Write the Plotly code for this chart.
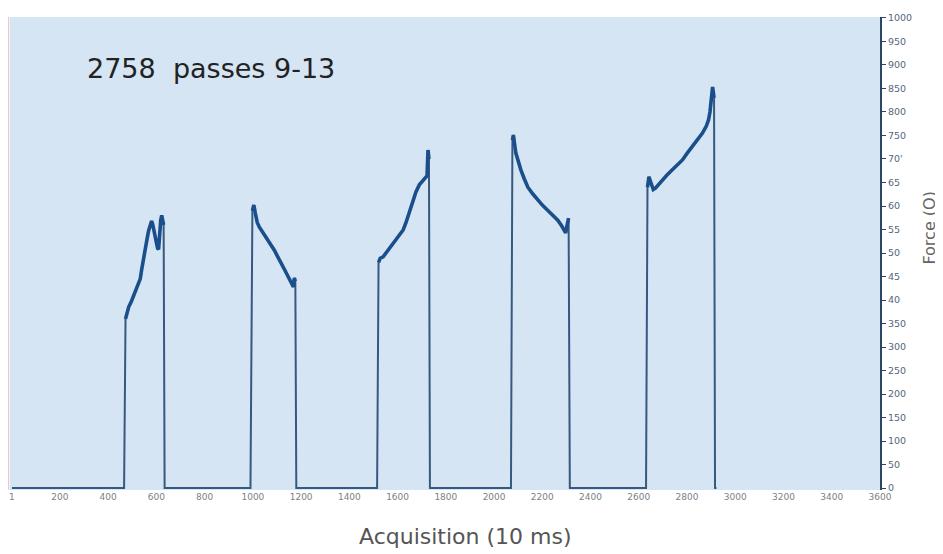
import plotly.graph_objects as go

# Signal (acquisition index, force)
acq = [1, 466, 472, 478, 485, 497, 510, 522, 533, 539, 545, 551, 558, 563, 568, 574, 580, 585, 590, 596, 601, 605, 609, 613, 618, 622, 626, 630, 634,
       990, 998, 1004, 1010, 1018, 1027, 1040, 1056, 1070, 1089, 1100, 1118, 1130, 1147, 1160, 1168, 1172, 1176, 1180,
       1515, 1521, 1528, 1540, 1552, 1565, 1580, 1594, 1608, 1623, 1635, 1648, 1662, 1676, 1690, 1705, 1715, 1722, 1726, 1730, 1734,
       2070, 2076, 2080, 2090, 2100, 2111, 2125, 2140, 2160, 2181, 2200, 2222, 2243, 2264, 2280, 2297, 2303, 2309, 2314,
       2630, 2636, 2642, 2650, 2660, 2669, 2680, 2698, 2715, 2739, 2760, 2781, 2800, 2822, 2843, 2864, 2880, 2889, 2895, 2900, 2906, 2912, 2916, 2922,
       3420]
force = [0, 0, 360, 375, 385, 398, 415, 428, 445, 465, 485, 500, 520, 535, 548, 560, 568, 560, 545, 528, 520, 510, 508, 540, 570, 580, 570, 560, 0,
         0, 590, 602, 585, 565, 555, 545, 534, 520, 506, 495, 479, 466, 449, 438, 428, 447, 440, 0,
         0, 480, 489, 492, 500, 510, 520, 528, 540, 549, 565, 585, 605, 630, 645, 655, 660, 664, 719, 700, 0,
         0, 740, 751, 713, 695, 677, 658, 640, 626, 613, 602, 591, 580, 570, 558, 543, 560, 574, 0,
         0, 640, 662, 650, 635, 638, 645, 655, 665, 677, 688, 698, 712, 726, 740, 755, 770, 783, 800, 830, 853, 830, 0,
         0]

x_tickvals = [1] + list(range(200, 3601, 200))
x_ticktext = [str(v) for v in x_tickvals]
y_tickvals = list(range(0, 1001, 50))
y_ticktext = ["0", "50", "100", "150", "200", "250", "300", "350", "40", "45", "50",
              "55", "60", "65", "70'", "750", "800", "850", "900", "950", "1000"]

title_text = "2758\u00a0 passes 9-13"
x_title = "Acquisition (10 ms)"
y_title = "Force (O)"

fig = go.Figure()
fig.add_trace(go.Scatter(x=acq, y=force, mode="lines",
                         line=dict(color="#35597f", width=2), hoverinfo="skip", showlegend=False))
# thicker overlay on the loaded plateaus
force_top = [v if v > 0 else None for v in force]
fig.add_trace(go.Scatter(x=acq, y=force_top, mode="lines", connectgaps=False,
                         line=dict(color="#1b4f8c", width=3.6), hoverinfo="skip", showlegend=False))

fig.update_layout(
    width=935, height=546,
    margin=dict(l=2, r=63, t=9, b=64),
    paper_bgcolor="white",
    plot_bgcolor="#d5e5f3",
    font=dict(family="DejaVu Sans"),
    xaxis=dict(range=[-7, 3600], tickvals=x_tickvals, ticktext=x_ticktext,
               showgrid=False, zeroline=False, showline=False, ticks="",
               tickfont=dict(size=9, color="#7a7f86")),
    yaxis=dict(range=[-4, 1002], side="right", tickvals=y_tickvals, ticktext=y_ticktext,
               showgrid=False, zeroline=False, showline=True, linecolor="#2c4563", linewidth=2,
               ticks="outside", ticklen=4, tickcolor="#2c4563",
               tickfont=dict(size=9.5, color="#55657c")),
    annotations=[
        dict(text=title_text, xref="paper", yref="paper", x=0.086, y=0.892,
             xanchor="left", yanchor="middle", showarrow=False,
             font=dict(size=27, color="#222222", family="DejaVu Sans")),
        dict(text=x_title, xref="paper", yref="paper", x=0.523, y=-0.099,
             xanchor="center", yanchor="middle", showarrow=False,
             font=dict(size=22, color="#555555", family="DejaVu Sans")),
        dict(text=y_title, xref="paper", yref="paper", x=1.057, y=0.554,
             xanchor="center", yanchor="middle", showarrow=False, textangle=-90,
             font=dict(size=16, color="#666666", family="DejaVu Sans")),
    ],
    shapes=[dict(type="line", xref="paper", yref="paper", x0=-0.002, x1=-0.002, y0=0, y1=1,
                 line=dict(color="#e7c9d3", width=2))],
)

fig.write_html("out.html")
